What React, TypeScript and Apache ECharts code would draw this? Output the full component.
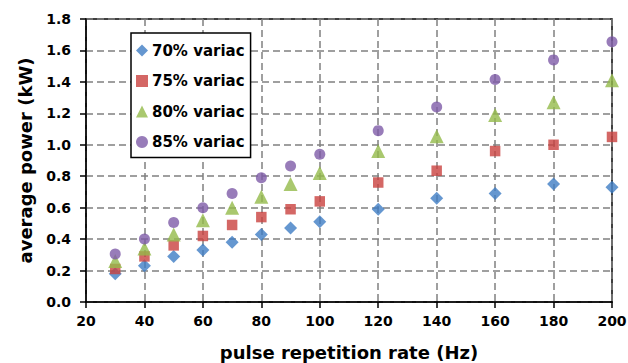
import React, { useEffect, useRef } from "react";
import * as echarts from "echarts";

// Pulse repetition rate (Hz)
const rates = [30, 40, 50, 60, 70, 80, 90, 100, 120, 140, 160, 180, 200];

// Average power (kW) per variac setting
const variac70 = [0.18, 0.23, 0.29, 0.33, 0.38, 0.43, 0.47, 0.51, 0.59, 0.66, 0.69, 0.75, 0.73];
const variac75 = [0.21, 0.29, 0.36, 0.42, 0.49, 0.54, 0.59, 0.64, 0.76, 0.835, 0.96, 1.0, 1.05];
const variac80 = [0.26, 0.34, 0.43, 0.52, 0.6, 0.67, 0.75, 0.82, 0.96, 1.055, 1.19, 1.27, 1.41];
const variac85 = [0.305, 0.40, 0.505, 0.60, 0.69, 0.79, 0.865, 0.94, 1.09, 1.24, 1.415, 1.54, 1.655];

const seriesNames = ["70% variac", "75% variac", "80% variac", "85% variac"];
const seriesData = [variac70, variac75, variac80, variac85];
const colors = ["#3F7DC4", "#C9413F", "#94BA4A", "#7E5BA8"];
const symbols = ["diamond", "rect", "triangle", "circle"];
const symbolSizes = [13, 10.5, 14, 11];

const FONT = "'DejaVu Sans', Verdana, sans-serif";

export default function App() {
  const ref = useRef<HTMLDivElement>(null);

  useEffect(() => {
    if (!ref.current) return;
    const chart = echarts.init(ref.current, undefined, { renderer: "svg" });

    const gridLine = { show: true, lineStyle: { color: "#808080", type: [7, 4], width: 1.5 } };
    const tickLabel = { fontFamily: FONT, fontSize: 14, fontWeight: "bold", color: "#000" };

    chart.setOption({
      animation: false,
      backgroundColor: "#ffffff",
      grid: {
        left: 86,
        right: 16,
        top: 19,
        bottom: 61,
        outerBoundsMode: "none",
        containLabel: false,
        show: true,
        borderColor: "#000",
        borderWidth: 1.5,
      },
      legend: {
        orient: "vertical",
        left: 131,
        top: 33,
        backgroundColor: "#fff",
        borderColor: "#000",
        borderWidth: 1.5,
        padding: [10, 6, 8, 5],
        itemGap: 15.5,
        itemWidth: 12,
        itemHeight: 12,
        textStyle: { fontFamily: FONT, fontSize: 15, fontWeight: "bold", color: "#000", padding: [0, 0, 0, -1] },
        data: seriesNames.map((n, i) => ({ name: n, icon: symbols[i] })),
      },
      xAxis: {
        type: "value",
        min: 20,
        max: 200,
        interval: 20,
        name: "pulse repetition rate (Hz)",
        nameLocation: "middle",
        nameGap: 41,
        nameTextStyle: { fontFamily: FONT, fontSize: 18, fontWeight: "bold", color: "#000" },
        axisLine: { show: true, lineStyle: { color: "#000", width: 1.5 } },
        axisTick: { show: true, inside: false, length: 6, lineStyle: { color: "#000", width: 1.5 } },
        axisLabel: { ...tickLabel, margin: 12 },
        splitLine: gridLine,
      },
      yAxis: {
        type: "value",
        min: 0,
        max: 1.8,
        interval: 0.2,
        name: "average power (kW)",
        nameLocation: "middle",
        nameGap: 52,
        nameTextStyle: { fontFamily: FONT, fontSize: 18, fontWeight: "bold", color: "#000" },
        axisLine: { show: true, lineStyle: { color: "#000", width: 1.5 } },
        axisTick: { show: true, inside: false, length: 6, lineStyle: { color: "#000", width: 1.5 } },
        axisLabel: {
          ...tickLabel,
          margin: 15,
          formatter: (v: number) => v.toFixed(1),
        },
        splitLine: gridLine,
      },
      series: seriesNames.map((name, i) => ({
        name,
        type: "scatter",
        symbol: symbols[i],
        symbolSize: symbolSizes[i],
        itemStyle: { color: colors[i] },
        data: rates.map((r, k) => [r, seriesData[i][k]]),
      })),
    });

    return () => chart.dispose();
  }, []);

  return (
    <div
      ref={ref}
      style={{ position: "fixed", left: 0, top: 0, width: 628, height: 363, background: "#fff" }}
    />
  );
}
